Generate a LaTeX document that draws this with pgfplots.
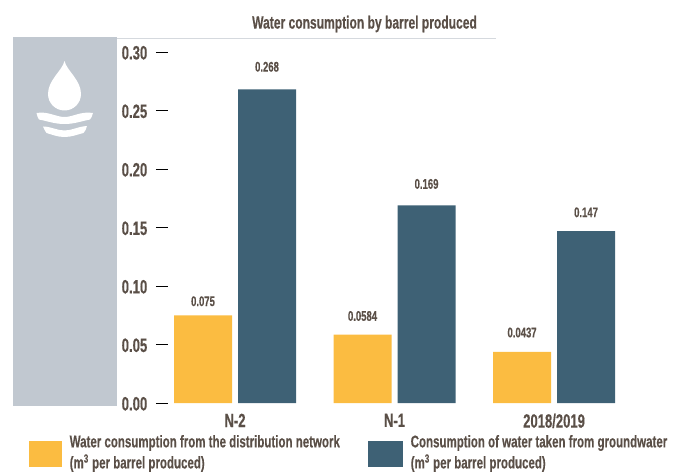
\documentclass[border=0pt]{standalone}
\usepackage{pgfplots}
\pgfplotsset{compat=1.18}
\usepackage{fontspec}
\setmainfont[FakeStretch=0.68,BoldFont={Liberation Sans Bold},BoldFeatures={FakeStretch=0.68,FakeBold=0.25}]{Liberation Sans}
\definecolor{inkbrown}{HTML}{5A4F47}
\definecolor{amberbar}{HTML}{FBBC41}
\definecolor{slatebar}{HTML}{3E6175}
\definecolor{panelgrey}{HTML}{C1C8D0}
\definecolor{rulegrey}{HTML}{D5D9DE}
\pgfplotstableread{
x network groundwater
0 0.075 0.268
1 0.0584 0.169
2 0.0437 0.147
}\waterdata
\begin{document}
\begin{tikzpicture}[x=0.75pt,y=0.75pt,font=\bfseries,text=inkbrown]
\path[use as bounding box] (0,0) rectangle (678,472);
% side panel with the water drop icon
\fill[panelgrey] (13,66) rectangle (117,435);
\fill[white] (64.5,411) .. controls (62,401) and (48,392) .. (48,378)
  arc[start angle=180,end angle=360,radius=16.5]
  .. controls (81,392) and (67,401) .. cycle;
\fill[white] (36.5,359) .. controls (48,361) and (56,355) .. (64.5,355)
  .. controls (73,355) and (81,361) .. (93,359)
  .. controls (92.5,356) and (91,354) .. (90,352.5)
  .. controls (80,350.5) and (74,348) .. (64.5,348)
  .. controls (55,348) and (49,350.5) .. (39,352.5) .. controls (38,354) and (37,356) .. cycle;
\fill[white] (43,345.5) .. controls (51,345.5) and (57,341.5) .. (64.5,341.5)
  .. controls (72,341.5) and (78,345.5) .. (87,346)
  .. controls (86.5,343) and (85,341) .. (83.5,339)
  .. controls (77,337.5) and (72,335) .. (64.5,335)
  .. controls (57,335) and (52,337.5) .. (46.5,339) .. controls (45,341) and (44,343) .. cycle;
% heading and its rule
\draw[rulegrey,line width=0.75pt] (117,433) -- (496,433);
\node[font=\bfseries\fontsize{13.3}{15}\selectfont,text=inkbrown] at (364.5,448) {Water consumption by barrel produced};
\begin{axis}[
  at={(126pt,51.75pt)},anchor=south west,
  scale only axis,width=346.5pt,height=263.25pt,
  xmin=-0.42,xmax=2.476,ymin=0,ymax=0.3,
  axis x line=bottom,axis y line=left,
  axis line style={draw=none},
  xtick=data,xticklabels={N-2,N-1,2018/2019},
  x tick style={draw=none},
  ytick={0,0.05,0.1,0.15,0.2,0.25,0.3},
  y tick style={black,line width=0.75pt},
  tick align=outside,
  major tick length=9pt,
  yticklabel style={/pgf/number format/fixed,/pgf/number format/fixed zerofill,/pgf/number format/precision=2,/pgf/number format/assume math mode=true,text=inkbrown,font=\bfseries\fontsize{14.5}{16}\selectfont,xshift=-3pt,yshift=-0.6pt},
  xticklabel style={text=inkbrown,font=\bfseries\fontsize{14.4}{16}\selectfont,yshift=4.5pt},
  ybar,bar width=43.5pt,
  /pgf/bar shift=0pt,
  clip=false,
]
\addplot[fill=amberbar,draw=none,bar shift=-24pt] table[x=x,y=network]{\waterdata};
\addplot[fill=slatebar,draw=none,bar shift=24pt] table[x=x,y=groundwater]{\waterdata};
\tikzset{valuelabel/.style={font=\bfseries\fontsize{10.5}{12}\selectfont,text=inkbrown}}
\node[valuelabel,xshift=-24pt,yshift=10.5pt] at (axis cs:0,0.075) {0.075};
\node[valuelabel,xshift=-24pt,yshift=14pt] at (axis cs:1,0.0584) {0.0584};
\node[valuelabel,xshift=-24pt,yshift=14.5pt] at (axis cs:2,0.0437) {0.0437};
\node[valuelabel,xshift=24pt,yshift=17pt] at (axis cs:0,0.268) {0.268};
\node[valuelabel,xshift=24pt,yshift=16pt] at (axis cs:1,0.169) {0.169};
\node[valuelabel,xshift=24pt,yshift=14pt] at (axis cs:2,0.147) {0.147};
\end{axis}
% legend
\fill[amberbar] (29,5) rectangle (62,31);
\fill[slatebar] (368,5) rectangle (403,31);
\node[anchor=west,align=left,font=\bfseries\fontsize{12.7}{15.8}\selectfont,text=inkbrown] at (65,18.5) {Water consumption from the distribution network\\(m\textsuperscript{3} per barrel produced)};
\node[anchor=west,align=left,font=\bfseries\fontsize{12.7}{15.8}\selectfont,text=inkbrown] at (406,18.5) {Consumption of water taken from groundwater\\(m\textsuperscript{3} per barrel produced)};
\end{tikzpicture}
\end{document}
